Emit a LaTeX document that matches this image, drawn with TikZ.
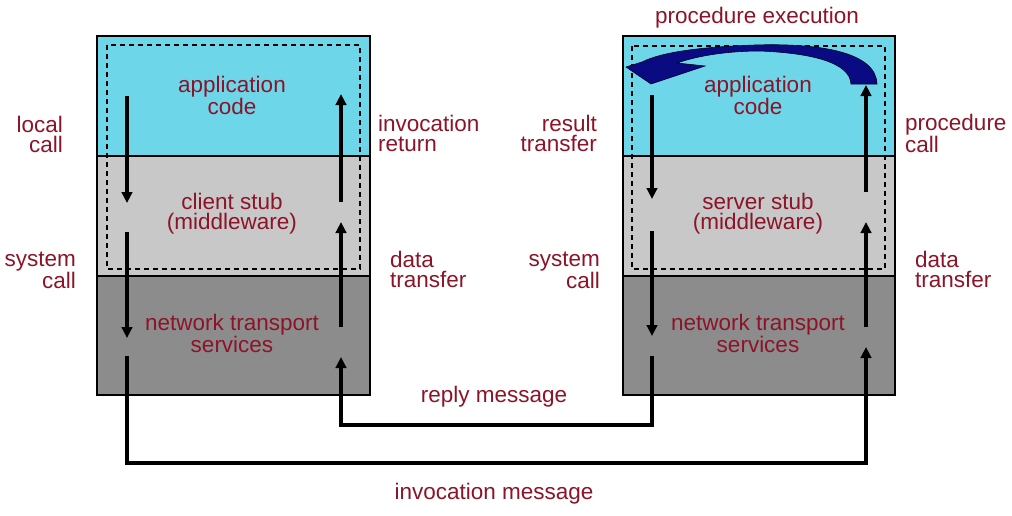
\documentclass[tikz,border=0pt]{standalone}
\usepackage{fontspec}
\setmainfont{Liberation Sans}
\usetikzlibrary{arrows.meta}
\definecolor{appcyan}{RGB}{109,214,232}
\definecolor{stubgray}{RGB}{200,200,200}
\definecolor{netgray}{RGB}{140,140,140}
\definecolor{lbl}{RGB}{140,20,40}
\definecolor{navy}{RGB}{10,10,130}
\newcommand{\mylabfont}{\fontsize{22.5}{20}\selectfont}
\begin{document}
\begin{tikzpicture}[x=1pt,y=-1pt,
  lab/.style={text=lbl,font=\mylabfont,inner sep=0pt},
  layer/.style={draw=black,line width=1.3pt},
  flow/.style={line width=4.6pt,line join=miter,-{Triangle[length=11pt,width=10.5pt]}},
  dash box/.style={draw=black,line width=1.4pt,dash pattern=on 5pt off 4pt}]
\useasboundingbox (0,0) rectangle (1012,515);

% ---------- left stack ----------
\fill[appcyan] (97,36) rectangle (370,156);
\fill[stubgray] (97,156) rectangle (370,276);
\fill[netgray] (97,276) rectangle (370,395);
\draw[layer] (97,156) -- (370,156);
\draw[layer] (97,276) -- (370,276);
\draw[line width=2pt] (97,36) rectangle (370,395);
\draw[dash box] (107,45) rectangle (360,269);

% ---------- right stack ----------
\fill[appcyan] (623,36) rectangle (895,156);
\fill[stubgray] (623,156) rectangle (895,276);
\fill[netgray] (623,276) rectangle (895,395);
\draw[layer] (623,156) -- (895,156);
\draw[layer] (623,276) -- (895,276);
\draw[line width=2pt] (623,36) rectangle (895,395);
\draw[dash box] (632,46) rectangle (885,269);

% ---------- box labels ----------
\node[lab,align=center] (lapp) at (232,95) {application\\code};
\node[lab,align=center] (lstub) at (232,214) {client stub\\(middleware)};
\node[lab,align=center] (lnet) at (232,333) {network transport\\services};
\node[lab,align=center] (rapp) at (758,95) {application\\code};
\node[lab,align=center] (rstub) at (758,214) {server stub\\(middleware)};
\node[lab,align=center] (rnet) at (758,333) {network transport\\services};

% ---------- side labels ----------
\node[lab,align=right,anchor=east] (localcall) at (63,134) {local\\call};
\node[lab,align=right,anchor=east] (syscallL) at (76,270) {system\\call};
\node[lab,align=left,anchor=west] (invret) at (378,133) {invocation\\return};
\node[lab,align=left,anchor=west] (datatrL) at (390,269) {data\\transfer};
\node[lab,align=right,anchor=east] (restr) at (597,133) {result\\transfer};
\node[lab,align=right,anchor=east] (syscallR) at (600,270) {system\\call};
\node[lab,align=left,anchor=west] (proccall) at (905,133) {procedure\\call};
\node[lab,align=left,anchor=west] (datatrR) at (915,269) {data\\transfer};
\node[lab] (procexec) at (757,18) {procedure execution};
\node[lab] (replymsg) at (494,397) {reply message};
\node[lab] (invmsg) at (494,494) {invocation message};

% ---------- coordinates for flows ----------
\coordinate (L1a) at (127,96);  \coordinate (L1b) at (127,203);
\coordinate (L2a) at (127,232); \coordinate (L2b) at (127,338);
\coordinate (L3a) at (127,356); \coordinate (L3c) at (127,463);
\coordinate (R3c) at (866,463); \coordinate (R3b) at (866,347);
\coordinate (R2a) at (866,327); \coordinate (R2b) at (866,222);
\coordinate (R1a) at (866,192); \coordinate (R1b) at (866,85);
\coordinate (D1a) at (652,95);  \coordinate (D1b) at (652,199);
\coordinate (D2a) at (652,231); \coordinate (D2b) at (652,336);
\coordinate (D3a) at (652,356); \coordinate (D3c) at (652,425);
\coordinate (U3c) at (341,425); \coordinate (U3b) at (341,357);
\coordinate (U2a) at (341,327); \coordinate (U2b) at (341,222);
\coordinate (U1a) at (341,202); \coordinate (U1b) at (341,94);

% client side, downward
\draw[flow] (L1a) -- (L1b);
\draw[flow] (L2a) -- (L2b);
% invocation message
\draw[flow] (L3a) -- (L3c) -- (R3c) -- (R3b);
% server side, upward
\draw[flow] (R2a) -- (R2b);
\draw[flow] (R1a) -- (R1b);
% server side, downward
\draw[flow] (D1a) -- (D1b);
\draw[flow] (D2a) -- (D2b);
% reply message
\draw[flow] (D3a) -- (D3c) -- (U3c) -- (U3b);
% client side, upward
\draw[flow] (U2a) -- (U2b);
\draw[flow] (U1a) -- (U1b);

% ---------- procedure execution curved arrow ----------
\fill[navy,draw=black!80!navy,line width=0.6pt]
  (877,84) .. controls (876,52) and (820,43) .. (755,45)
  .. controls (700,47) and (662,52) .. (642,62)
  -- (626,67) -- (651,84) -- (705,66) -- (677,63)
  .. controls (700,55) and (730,51) .. (760,51)
  .. controls (810,53) and (850,62) .. (851,84) -- cycle;
\end{tikzpicture}
\end{document}
